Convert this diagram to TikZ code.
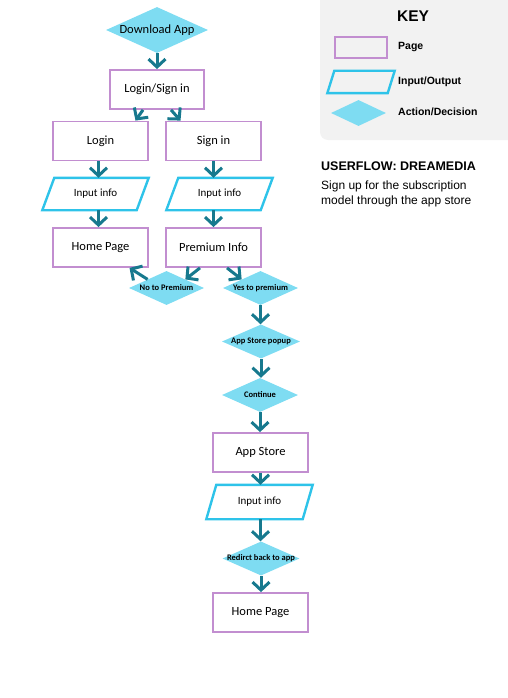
\documentclass[tikz,border=0pt]{standalone}
\usepackage{fontspec}
\setmainfont{Liberation Sans}
\newfontfamily\flowfont{Carlito}
\usetikzlibrary{shapes.geometric,arrows.meta,calc}
\definecolor{pagec}{HTML}{C28ED0}
\definecolor{ioc}{HTML}{2EC3E9}
\definecolor{diac}{HTML}{7EDCF2}
\definecolor{arrc}{HTML}{17798E}
\definecolor{keybg}{HTML}{F2F2F2}
\newcommand\zw[1]{\makebox[0pt]{#1}}
\begin{document}
\begin{tikzpicture}[x=1pt,y=-1pt,
  pagebox/.style={draw=pagec,line width=1.8pt,minimum width=95pt,minimum height=39pt,inner sep=0pt,font=\flowfont\fontsize{12.5}{14}\selectfont},
  iotext/.style={draw=none,minimum width=94pt,minimum height=32pt,inner sep=0pt,font=\flowfont\fontsize{11}{12}\selectfont},
  iopath/.style={draw=ioc,line width=2.4pt,line join=miter},
  decis/.style={diamond,fill=diac,draw=none,inner sep=0pt,aspect=2,font=\flowfont\bfseries\fontsize{8.5}{9}\selectfont},
  flow/.style={draw=arrc,line width=3pt,-{Straight Barb[length=8pt,width=17pt]}},
]
\useasboundingbox (0,0) rectangle (507,698);
% key panel
\fill[keybg,rounded corners=8pt] (320,-10) rectangle (517,140);
\node[font=\bfseries\fontsize{15.5}{17}\selectfont] (keyt) at (413,16) {KEY};
\node[draw=pagec,line width=1.8pt,minimum width=52pt,minimum height=21pt,inner sep=0pt] (kpage) at (361,47.5) {};
\node[anchor=west,inner sep=0pt,font=\bfseries\fontsize{10.5}{12}\selectfont] (kpaget) at (398,47) {Page};
\node[draw=none,minimum width=60pt,minimum height=22pt,inner sep=0pt] (kio) at (361,82) {};
\draw[iopath] ([xshift=3.5]kio.north west) -- ([xshift=3.5]kio.north east) -- ([xshift=-3.5]kio.south east) -- ([xshift=-3.5]kio.south west) -- cycle;
\node[anchor=west,inner sep=0pt,font=\bfseries\fontsize{10.5}{12}\selectfont] (kiot) at (398,82) {Input/Output};
\node[decis,minimum width=55pt,minimum height=26pt] (kdia) at (358.5,113) {};
\node[anchor=west,inner sep=0pt,font=\bfseries\fontsize{10.5}{12}\selectfont] (kdiat) at (398,112) {Action/Decision};
\node[anchor=west,inner sep=0pt,font=\bfseries\fontsize{12.5}{15}\selectfont] (title) at (321,166) {USERFLOW: DREAMEDIA};
\node[anchor=north west,inner sep=0pt,align=left,font=\fontsize{12}{15}\selectfont] (desc) at (321,181) {Sign up for the subscription\\model through the app store};
% flow
\node[decis,minimum width=102pt,minimum height=46pt,font=\flowfont\fontsize{12.5}{14}\selectfont] (dl) at (157,30) {\zw{Download App}};
\node[pagebox,minimum width=94pt] (ls) at (157,89.5) {Login/Sign in};
\node[pagebox] (login) at (100.5,141) {Login};
\node[pagebox] (signin) at (213.5,141) {Sign in};
\node[iotext] (in1) at (95.5,194) {Input info};
\draw[iopath] ([xshift=6]in1.north west) -- ([xshift=6]in1.north east) -- ([xshift=-6]in1.south east) -- ([xshift=-6]in1.south west) -- cycle;
\node[iotext] (in2) at (219.5,194) {Input info};
\draw[iopath] ([xshift=6]in2.north west) -- ([xshift=6]in2.north east) -- ([xshift=-6]in2.south east) -- ([xshift=-6]in2.south west) -- cycle;
\node[pagebox] (hp1) at (100.5,247.5) {Home Page};
\node[pagebox] (pi) at (213.5,247.5) {Premium Info};
\node[decis,minimum width=75pt,minimum height=34pt] (no) at (166.5,288) {\zw{No to Premium}};
\node[decis,minimum width=75pt,minimum height=34pt] (yes) at (260.5,288) {\zw{Yes to premium}};
\node[decis,minimum width=78pt,minimum height=34pt] (pop) at (261,341.5) {\zw{App Store popup}};
\node[decis,minimum width=76pt,minimum height=34pt] (cont) at (260,395) {\zw{Continue}};
\node[pagebox] (as) at (260.5,452.5) {App Store};
\node[iotext,minimum width=96pt,minimum height=34pt] (in3) at (259.5,502) {Input info};
\draw[iopath] ([xshift=5]in3.north west) -- ([xshift=5]in3.north east) -- ([xshift=-5]in3.south east) -- ([xshift=-5]in3.south west) -- cycle;
\node[decis,minimum width=77pt,minimum height=34pt] (red) at (261,558.5) {\zw{Redirct back to app}};
\node[pagebox] (hp2) at (260.5,612.5) {Home Page};
% connectors
\draw[flow] (dl.south) -- (ls.north);
\draw[flow] ([xshift=-14]ls.south) -- ([xshift=35]login.north);
\draw[flow] ([xshift=14]ls.south) -- ([xshift=-33]signin.north);
\draw[flow] ([xshift=-2]login.south) -- ([xshift=-2]login.south |- in1.north);
\draw[flow] ([xshift=-2]login.south |- in1.south) -- ([xshift=-2]hp1.north);
\draw[flow] (signin.south) -- (signin.south |- in2.north);
\draw[flow] (signin.south |- in2.south) -- (pi.north);
\draw[flow] ([xshift=-13.5]pi.south) -- (no.north east);
\draw[flow] (no.north west) -- ([xshift=29]hp1.south);
\draw[flow] ([xshift=13.5]pi.south) -- (yes.north west);
\draw[flow] (yes.south) -- (yes.south |- pop.north);
\draw[flow] (pop.south) -- (pop.south |- cont.north);
\draw[flow] (cont.south) -- (cont.south |- as.north);
\draw[flow] (as.south) -- (as.south |- in3.north);
\draw[flow] (as.south |- in3.south) -- (as.south |- red.north);
\draw[flow] (red.south) -- (red.south |- hp2.north);
\end{tikzpicture}
\end{document}
